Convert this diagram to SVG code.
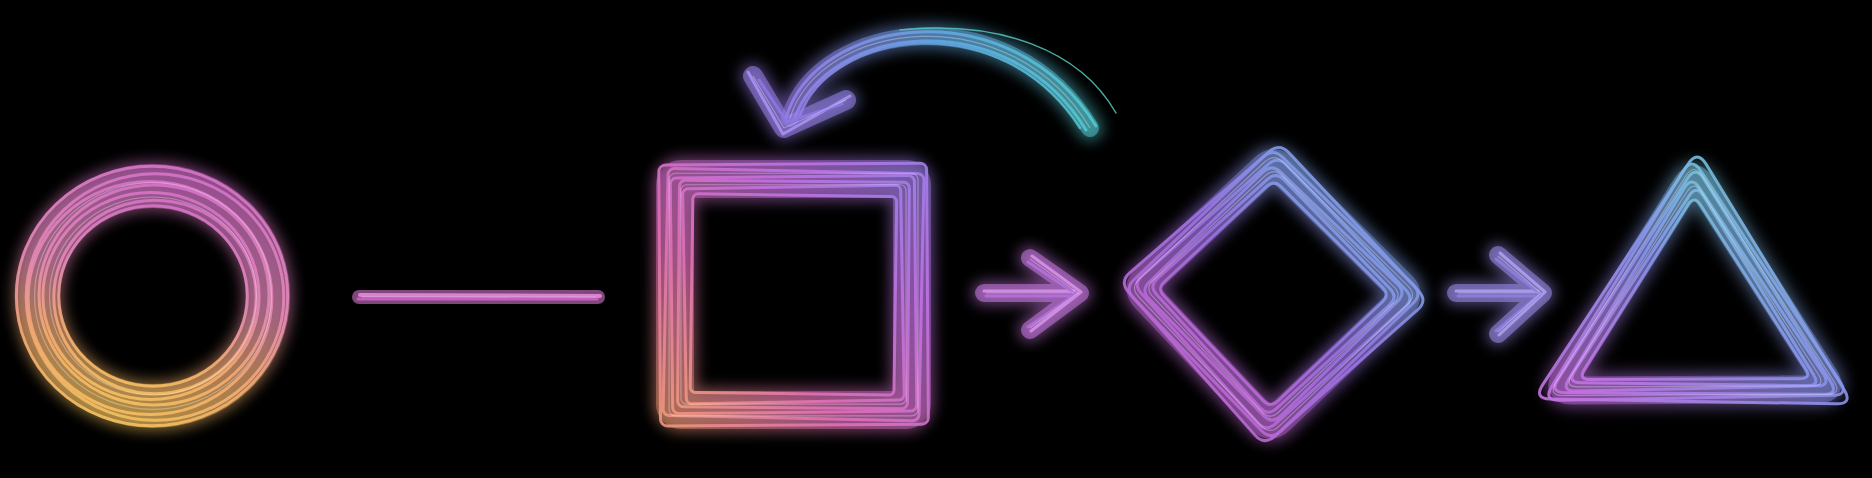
<svg xmlns="http://www.w3.org/2000/svg" xmlns:xlink="http://www.w3.org/1999/xlink" width="1872" height="478" viewBox="0 0 1872 478">
<defs>
  <filter id="blur" x="-30%" y="-30%" width="160%" height="160%"><feGaussianBlur stdDeviation="7"/></filter>
  <linearGradient id="gC" gradientUnits="userSpaceOnUse" x1="115" y1="425" x2="175" y2="168">
    <stop offset="0" stop-color="#f8c95a"/><stop offset="0.3" stop-color="#f2aa76"/><stop offset="0.55" stop-color="#e48ab6"/><stop offset="1" stop-color="#d470cc"/>
  </linearGradient>
  <linearGradient id="gS" gradientUnits="userSpaceOnUse" x1="660" y1="425" x2="930" y2="160">
    <stop offset="0" stop-color="#f29e72"/><stop offset="0.35" stop-color="#e070b8"/><stop offset="0.7" stop-color="#c072e2"/><stop offset="1" stop-color="#9a82ec"/>
  </linearGradient>
  <linearGradient id="gD" gradientUnits="userSpaceOnUse" x1="1150" y1="420" x2="1400" y2="160">
    <stop offset="0" stop-color="#d462c8"/><stop offset="0.5" stop-color="#9a72e2"/><stop offset="1" stop-color="#6cc2ea"/>
  </linearGradient>
  <linearGradient id="gT" gradientUnits="userSpaceOnUse" x1="1590" y1="400" x2="1760" y2="160">
    <stop offset="0" stop-color="#c472e2"/><stop offset="0.5" stop-color="#8a92ea"/><stop offset="1" stop-color="#6cdad6"/>
  </linearGradient>
  <linearGradient id="gA" gradientUnits="userSpaceOnUse" x1="780" y1="100" x2="1110" y2="100">
    <stop offset="0" stop-color="#9a7ce8"/><stop offset="0.5" stop-color="#62a8e2"/><stop offset="1" stop-color="#52cccc"/>
  </linearGradient>
  <ellipse id="ringC" cx="153" cy="296" rx="115" ry="110" fill="none" vector-effect="non-scaling-stroke"/>
  <rect id="rectS" x="675" y="179" width="237" height="231" rx="6" fill="none" vector-effect="non-scaling-stroke"/>
  <path id="polyD" d="M1265.2 171.2 Q1274 163 1282.5 171.4 L1398.5 286.6 Q1407 295 1398.3 303.3 L1278.7 416.7 Q1270 425 1261.7 416.3 L1148.3 296.7 Q1140 288 1148.8 279.8 Z" fill="none" stroke-linejoin="round" vector-effect="non-scaling-stroke"/>
  <path id="polyT" d="M1686.6 191.9 Q1694 180 1701.6 191.8 L1820.4 377.2 Q1828 389 1814 389 L1576 390 Q1562 390 1569.4 378.1 Z" fill="none" stroke-linejoin="round" vector-effect="non-scaling-stroke"/>
</defs>
<style>
  .glow { fill:none; filter:url(#blur); opacity:0.5; }
  .band { fill:none; opacity:0.42; }
  .thin { fill:none; stroke-width:3; opacity:0.9; }
  .hi { fill:none; stroke:#ffffff; stroke-width:1.2; opacity:0.3; }
  .tube { fill:none; stroke-linecap:round; stroke-linejoin:round; }
</style>
<rect width="1872" height="478" fill="#000000"/>

<g id="circle">
  <use xlink:href="#ringC" class="glow" stroke="url(#gC)" style="stroke-width:50"/>
  <use xlink:href="#ringC" class="band" stroke="url(#gC)" style="stroke-width:44"/>
  <use xlink:href="#ringC" class="thin" stroke="url(#gC)" transform="translate(153 296) scale(0.82) translate(-153 -296)"/>
  <use xlink:href="#ringC" class="thin" stroke="url(#gC)" transform="translate(2 1) translate(153 296) scale(0.88) translate(-153 -296)"/>
  <use xlink:href="#ringC" class="thin" stroke="url(#gC)" transform="translate(-2 0) translate(153 296) scale(0.94) translate(-153 -296)"/>
  <use xlink:href="#ringC" class="thin" stroke="url(#gC)" transform="translate(1 -1)"/>
  <use xlink:href="#ringC" class="thin" stroke="url(#gC)" transform="translate(-3 2) translate(153 296) scale(1.06) translate(-153 -296)"/>
  <use xlink:href="#ringC" class="thin" stroke="url(#gC)" transform="translate(2 1) translate(153 296) scale(1.12) translate(-153 -296)"/>
  <use xlink:href="#ringC" class="thin" stroke="url(#gC)" transform="translate(-1 0) translate(153 296) scale(1.18) translate(-153 -296)"/>
  <use xlink:href="#ringC" class="hi" transform="translate(153 296) scale(0.9) translate(-153 -296)"/>
  <use xlink:href="#ringC" class="hi" transform="translate(153 296) scale(1.03) translate(-153 -296)"/>
</g>

<g id="line">
  <path d="M359 297 L598 297" class="tube glow" stroke="#d676cc" stroke-width="20"/>
  <path d="M359 297 L598 297" class="tube" stroke="#d676cc" stroke-width="14" opacity="0.6"/>
  <path d="M360 295 L600 296" class="tube" stroke="#e08ad8" stroke-width="4" opacity="0.9"/>
  <path d="M358 299 L597 299" class="tube" stroke="#c866c4" stroke-width="3" opacity="0.9"/>
  <path d="M362 297 L596 297" class="hi"/>
</g>

<g id="square">
  <use xlink:href="#rectS" class="glow" stroke="url(#gS)" style="stroke-width:44"/>
  <use xlink:href="#rectS" class="band" stroke="url(#gS)" style="stroke-width:38"/>
  <use xlink:href="#rectS" class="thin" stroke="url(#gS)" transform="rotate(0.8 793 294) translate(793 294) scale(0.86 0.86) translate(-793 -294)"/>
  <use xlink:href="#rectS" class="thin" stroke="url(#gS)" transform="rotate(-1 793 294) translate(793 294) scale(0.92 0.93) translate(-793 -294)"/>
  <use xlink:href="#rectS" class="thin" stroke="url(#gS)" transform="rotate(0.5 793 294) translate(793 294) scale(0.97 0.98) translate(-793 -294)"/>
  <use xlink:href="#rectS" class="thin" stroke="url(#gS)" transform="rotate(-0.6 793 294) translate(793 294) scale(1.03 1.02) translate(-793 -294)"/>
  <use xlink:href="#rectS" class="thin" stroke="url(#gS)" transform="rotate(1.2 793 294) translate(793 294) scale(1.08 1.07) translate(-793 -294)"/>
  <use xlink:href="#rectS" class="thin" stroke="url(#gS)" transform="rotate(-0.4 793 294) translate(793 294) scale(1.13 1.13) translate(-793 -294)"/>
  <use xlink:href="#rectS" class="hi" transform="translate(793 294) scale(0.95 0.95) translate(-793 -294)"/>
  <use xlink:href="#rectS" class="hi" transform="translate(793 294) scale(1.05 1.05) translate(-793 -294)"/>
</g>

<g id="diamond" transform="translate(1273 293) scale(1.015) translate(-1273 -293)">
  <use xlink:href="#polyD" class="glow" stroke="url(#gD)" style="stroke-width:40"/>
  <use xlink:href="#polyD" class="band" stroke="url(#gD)" style="stroke-width:32"/>
  <use xlink:href="#polyD" class="thin" stroke="url(#gD)" transform="translate(1273 293) scale(0.86) translate(-1273 -293)"/>
  <use xlink:href="#polyD" class="thin" stroke="url(#gD)" transform="rotate(1 1273 293) translate(1273 293) scale(0.92) translate(-1273 -293)"/>
  <use xlink:href="#polyD" class="thin" stroke="url(#gD)" transform="rotate(-1 1273 293) translate(1273 293) scale(0.98) translate(-1273 -293)"/>
  <use xlink:href="#polyD" class="thin" stroke="url(#gD)" transform="rotate(1.5 1273 293) translate(1273 293) scale(1.04) translate(-1273 -293)"/>
  <use xlink:href="#polyD" class="thin" stroke="url(#gD)" transform="rotate(-0.5 1273 293) translate(1273 293) scale(1.1) translate(-1273 -293)"/>
  <use xlink:href="#polyD" class="thin" stroke="url(#gD)" transform="rotate(2 1273 293) translate(1273 293) scale(1.14) translate(-1273 -293)"/>
  <use xlink:href="#polyD" class="hi" transform="translate(1273 293) scale(0.95) translate(-1273 -293)"/>
  <use xlink:href="#polyD" class="hi" transform="translate(1273 293) scale(1.06) translate(-1273 -293)"/>
</g>

<g id="triangle" transform="translate(1695 318) scale(1.035) translate(-1695 -320)">
  <use xlink:href="#polyT" class="glow" stroke="url(#gT)" style="stroke-width:34"/>
  <use xlink:href="#polyT" class="band" stroke="url(#gT)" style="stroke-width:28"/>
  <use xlink:href="#polyT" class="thin" stroke="url(#gT)" transform="translate(1695 320) scale(0.85) translate(-1695 -320)"/>
  <use xlink:href="#polyT" class="thin" stroke="url(#gT)" transform="rotate(1 1695 320) translate(1695 320) scale(0.92) translate(-1695 -320)"/>
  <use xlink:href="#polyT" class="thin" stroke="url(#gT)" transform="rotate(-1 1695 320) translate(1695 320) scale(0.98) translate(-1695 -320)"/>
  <use xlink:href="#polyT" class="thin" stroke="url(#gT)" transform="rotate(0.6 1695 320) translate(1695 320) scale(1.05) translate(-1695 -320)"/>
  <use xlink:href="#polyT" class="thin" stroke="url(#gT)" transform="rotate(-0.8 1695 320) translate(1695 320) scale(1.11) translate(-1695 -320)"/>
  <use xlink:href="#polyT" class="thin" stroke="url(#gT)" transform="rotate(1.2 1695 320) translate(1695 320) scale(1.16) translate(-1695 -320)"/>
  <use xlink:href="#polyT" class="hi" transform="translate(1695 320) scale(0.95) translate(-1695 -320)"/>
  <use xlink:href="#polyT" class="hi" transform="translate(1695 320) scale(1.07) translate(-1695 -320)"/>
</g>

<g id="connectors">
  <g id="arrow-square-diamond">
    <path d="M984 293 L1076 293 M1030 258 L1080 293 L1030 330" class="tube glow" stroke="#c87ae2" stroke-width="24"/>
    <path d="M984 293 L1076 293 M1030 258 L1080 293 L1030 330" class="tube" stroke="#c87ae2" stroke-width="18" opacity="0.55"/>
    <path d="M984 291 L1074 291 M1032 256 L1081 292 L1031 331" class="tube" stroke="#d890e8" stroke-width="3" opacity="0.9"/>
    <path d="M986 296 L1072 296 M1028 262 L1076 294 L1028 327" class="tube" stroke="#b470dc" stroke-width="3" opacity="0.9"/>
    <path d="M986 293 L1074 293 M1030 259 L1078 293 L1030 328" class="hi"/>
  </g>
  <g id="arrow-diamond-triangle">
    <path d="M1456 293 L1540 293 M1498 255 L1543 293 L1498 334" class="tube glow" stroke="#9c8cea" stroke-width="24"/>
    <path d="M1456 293 L1540 293 M1498 255 L1543 293 L1498 334" class="tube" stroke="#9c8cea" stroke-width="18" opacity="0.55"/>
    <path d="M1456 291 L1538 291 M1500 253 L1545 292 L1499 335" class="tube" stroke="#aca0f0" stroke-width="3" opacity="0.9"/>
    <path d="M1458 296 L1536 296 M1496 259 L1540 294 L1496 331" class="tube" stroke="#8c80e0" stroke-width="3" opacity="0.9"/>
    <path d="M1458 293 L1538 293 M1498 256 L1541 293 L1498 332" class="hi"/>
  </g>
  <g id="arrow-diamond-square">
    <path d="M790 118 C 820 20, 1010 -5, 1090 128 M753 76 L784 128 L846 100" class="tube glow" stroke="url(#gA)" stroke-width="26"/>
    <path d="M790 118 C 820 20, 1010 -5, 1090 128" class="tube" stroke="url(#gA)" stroke-width="18" opacity="0.5"/>
    <path d="M753 76 L784 128 L846 100" class="tube" stroke="#9a84ec" stroke-width="20" opacity="0.55"/>
    <path d="M786 118 C 816 16, 1010 -12, 1096 126" class="tube" stroke="url(#gA)" stroke-width="3" opacity="0.9"/>
    <path d="M794 120 C 826 26, 1006 0, 1086 130" class="tube" stroke="url(#gA)" stroke-width="3" opacity="0.9"/>
    <path d="M800 116 C 830 30, 1000 4, 1080 128" class="tube" stroke="url(#gA)" stroke-width="2.5" opacity="0.8"/>
    <path d="M900 30 C 1000 20, 1080 50, 1116 113" class="tube" stroke="#56c8b8" stroke-width="1.5" opacity="0.85"/>
    <path d="M748 72 L783 134 L850 96" class="tube" stroke="#a892f0" stroke-width="3" opacity="0.9"/>
    <path d="M759 80 L787 122 L842 104" class="tube" stroke="#8c78e4" stroke-width="3" opacity="0.9"/>
    <path d="M790 118 C 820 20, 1010 -5, 1090 128 M753 76 L784 128 L846 100" class="hi"/>
  </g>
</g>
</svg>
